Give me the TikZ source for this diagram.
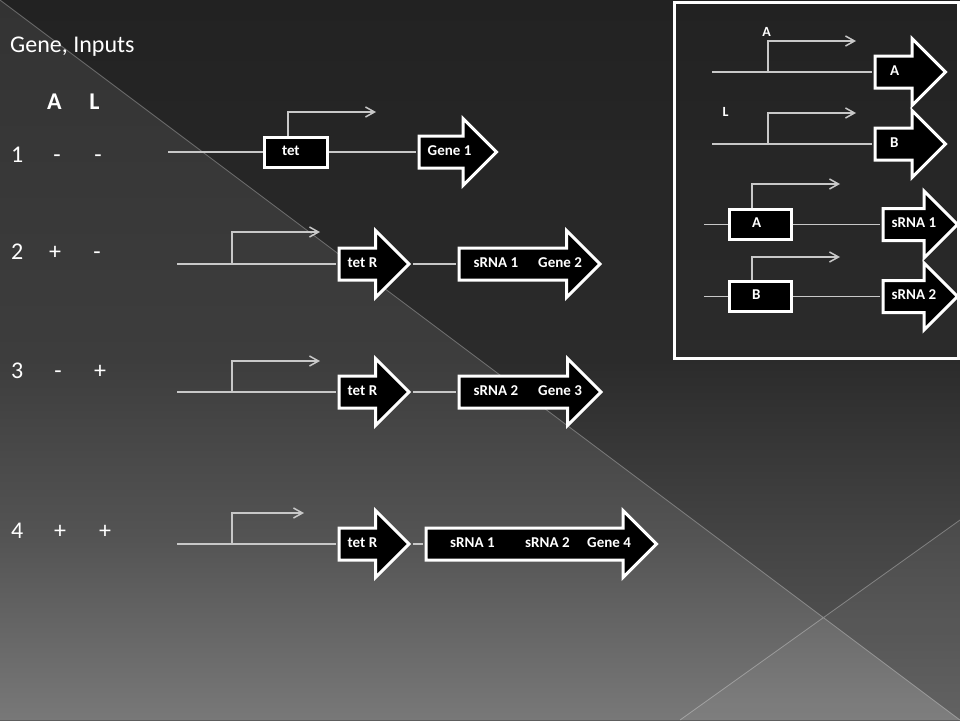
\documentclass[tikz,border=0pt]{standalone}
\usepackage{fontspec}
\setmainfont{Carlito}
\usetikzlibrary{positioning,shapes.arrows,arrows.meta}
\definecolor{dnagrey}{HTML}{C8C8C8}
\definecolor{dk1}{HTML}{222222}
\definecolor{dk2}{HTML}{2B2B2B}
\definecolor{dk3}{HTML}{444444}
\definecolor{dk4}{HTML}{5A5A5A}
\definecolor{lt1}{HTML}{333333}
\definecolor{lt2}{HTML}{3D3D3D}
\definecolor{lt3}{HTML}{545454}
\definecolor{lt4}{HTML}{787878}
\pgfdeclareverticalshading{darkpart}{100bp}{color(0bp)=(dk4); color(25bp)=(dk4); color(37.5bp)=(dk3); color(50bp)=(dk2); color(75bp)=(dk1); color(100bp)=(dk1)}
\pgfdeclareverticalshading{lightpart}{100bp}{color(0bp)=(lt4); color(25bp)=(lt4); color(37.5bp)=(lt3); color(50bp)=(lt2); color(75bp)=(lt1); color(100bp)=(lt1)}
\newcommand\bigfont{\fontsize{24}{28}\selectfont}
\newcommand\genefont{\fontsize{15}{18}\selectfont\bfseries}
\newcommand\keyfont{\fontsize{14}{16}\selectfont\bfseries}
\begin{document}
\begin{tikzpicture}[x=1pt, y=-1pt, >={Straight Barb[length=9pt,width=10pt]}]
	\tikzset{dna/.style={draw=dnagrey, line width=1.5pt},
		prom/.style={dna, ->},
		genebox/.style={draw=white, line width=3pt, fill=black, text=white, font=\genefont, minimum width=63pt, minimum height=30pt, inner sep=0pt, align=left, text height=0.63em, text depth=0pt},
		genearrow/.style={single arrow, draw=white, line width=3pt, fill=black, inner xsep=0pt, inner ysep=14.5pt, single arrow head extend=17.5pt, single arrow tip angle=90, anchor=tail},
		genetext/.style={text=white, font=\genefont, inner sep=0pt, text height=0.63em, text depth=0pt},
		keytext/.style={text=white, font=\keyfont, inner sep=0pt},
		tablenum/.style={text=white, font=\bigfont, inner sep=0pt, anchor=base west},
		tablesign/.style={text=white, font=\bigfont, inner sep=0pt, anchor=base}}
	% background
	\useasboundingbox (0,0) rectangle (960,720);
	\shade[shading=darkpart] (0,0) rectangle (960,720);
	\shade[shading=lightpart] (0,0) -- (960,720) -- (0,720) -- cycle;
	\fill[white, opacity=0.05] (680,720) -- (960,520) -- (960,720) -- cycle;
	\draw[white, opacity=0.3, line width=0.8pt] (0,0) -- (960,720) (680,720) -- (960,520);
	% table of inputs
	\node[tablenum] (title) at (10,52) {Gene, Inputs};
	\node[tablesign, font=\bigfont\bfseries] (colA) at (54.5,109) {A};
	\node[tablesign, font=\bigfont\bfseries] (colL) at (94.5,109) {L};
	\foreach \n/\y/\a/\xa/\l/\xl in {1/162/-/57/-/98, 2/259/+/55/-/97, 3/378/-/58/+/100, 4/538/+/60/+/105}{
		\node[tablenum] (row\n) at (11,\y) {\n};
		\node[tablesign] (rowA\n) at (\xa,\y) {\a};
		\node[tablesign] (rowL\n) at (\xl,\y) {\l};
	}
	% row 1
	\coordinate (s1) at (168,152);
	\node[genebox, text width=28pt] (tet1) at (296,152) {tet};
	\node[genearrow, minimum height=77.5pt] (g1) at (417.5,152) {};
	\node[genetext, right=10pt of g1.tail] (g1t) {Gene 1};
	\coordinate (p1e) at (376,112);
	\draw[dna] (s1) -- (tet1);
	\draw[dna, shorten >=1.5pt] (tet1) -- (g1.tail);
	\draw[prom] ([xshift=-8pt]tet1.north) |- (p1e);
	% row 2
	\coordinate (s2) at (177,264);
	\node[genearrow, minimum height=70pt] (tr2) at (337.5,264) {};
	\node[genetext, right=10pt of tr2.tail] (tr2t) {tet R};
	\node[genearrow, minimum height=141pt] (sr2) at (457.5,264) {};
	\node[genetext, right=16pt of sr2.tail] (sr2a) {sRNA 1};
	\node[genetext, right=80.5pt of sr2.tail] (sr2b) {Gene 2};
	\coordinate (p2) at (232,264);
	\coordinate (p2e) at (320,232);
	\draw[dna, shorten >=1.5pt] (s2) -- (tr2.tail);
	\draw[dna, shorten <=2pt, shorten >=1.5pt] (tr2.tip) -- (sr2.tail);
	\draw[prom] (p2) |- (p2e);
	% row 3
	\coordinate (s3) at (177,392);
	\node[genearrow, minimum height=70pt] (tr3) at (337.5,392) {};
	\node[genetext, right=10pt of tr3.tail] (tr3t) {tet R};
	\node[genearrow, minimum height=142pt] (sr3) at (457.5,392) {};
	\node[genetext, right=16pt of sr3.tail] (sr3a) {sRNA 2};
	\node[genetext, right=80.5pt of sr3.tail] (sr3b) {Gene 3};
	\coordinate (p3) at (232,392);
	\coordinate (p3e) at (320,361);
	\draw[dna, shorten >=1.5pt] (s3) -- (tr3.tail);
	\draw[dna, shorten <=2pt, shorten >=1.5pt] (tr3.tip) -- (sr3.tail);
	\draw[prom] (p3) |- (p3e);
	% row 4
	\coordinate (s4) at (177,544);
	\node[genearrow, minimum height=70pt] (tr4) at (337.5,544) {};
	\node[genetext, right=10pt of tr4.tail] (tr4t) {tet R};
	\node[genearrow, minimum height=230.5pt] (sr4) at (424.5,544) {};
	\node[genetext, right=25.5pt of sr4.tail] (sr4a) {sRNA 1};
	\node[genetext, right=100.5pt of sr4.tail] (sr4b) {sRNA 2};
	\node[genetext, right=162.5pt of sr4.tail] (sr4c) {Gene 4};
	\coordinate (p4) at (232,544);
	\coordinate (p4e) at (304,513);
	\draw[dna, shorten >=1.5pt] (s4) -- (tr4.tail);
	\draw[dna, shorten <=2pt, shorten >=1.5pt] (tr4.tip) -- (sr4.tail);
	\draw[prom] (p4) |- (p4e);
	% key
	\draw[white, line width=3pt] (674.5,2.5) rectangle (958.5,358.5);
	\coordinate (sa) at (712,72);
	\node[genearrow, minimum height=70.5pt] (ka) at (873.5,72) {};
	\node[genetext, right=16.5pt of ka.tail] (kat) {A};
	\node[keytext] (inA) at (766.5,32) {A};
	\coordinate (pa) at (768,72);
	\coordinate (pae) at (856,41);
	\draw[dna, shorten >=1.5pt] (sa) -- (ka.tail);
	\draw[prom] (pa) |- (pae);
	\coordinate (sb) at (712,144);
	\node[genearrow, minimum height=70.5pt] (kb) at (873.5,144) {};
	\node[genetext, right=16.5pt of kb.tail] (kbt) {B};
	\node[keytext] (inL) at (725.5,112) {L};
	\coordinate (pb) at (768,144);
	\coordinate (pbe) at (856,113);
	\draw[dna, shorten >=1.5pt] (sb) -- (kb.tail);
	\draw[prom] (pb) |- (pbe);
	\coordinate (sc) at (704,224.5);
	\node[genebox, minimum width=62pt, text width=17pt] (kboxA) at (760.5,224.5) {A};
	\node[genearrow, minimum height=74.5pt] (ks1) at (881.5,224.5) {};
	\node[genetext, right=10pt of ks1.tail] (ks1t) {sRNA 1};
	\coordinate (pce) at (840,184);
	\draw[dna] (sc) -- (kboxA);
	\draw[dna, shorten >=1.5pt] (kboxA) -- (ks1.tail);
	\draw[prom] ([xshift=-8.5pt]kboxA.north) |- (pce);
	\coordinate (sd) at (704,296.5);
	\node[genebox, minimum width=62pt, text width=17pt] (kboxB) at (760.5,296.5) {B};
	\node[genearrow, minimum height=74.5pt] (ks2) at (881.5,296.5) {};
	\node[genetext, right=10pt of ks2.tail] (ks2t) {sRNA 2};
	\coordinate (pde) at (840,257);
	\draw[dna] (sd) -- (kboxB);
	\draw[dna, shorten >=1.5pt] (kboxB) -- (ks2.tail);
	\draw[prom] ([xshift=-8.5pt]kboxB.north) |- (pde);
\end{tikzpicture}
\end{document}
